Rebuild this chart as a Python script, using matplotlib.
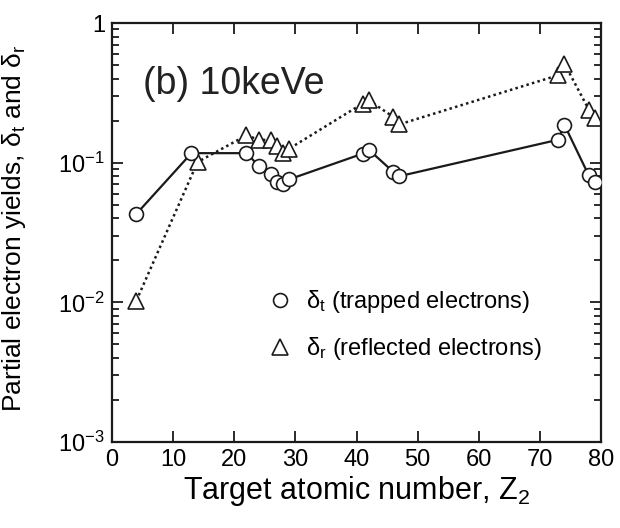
import numpy as np
import matplotlib
matplotlib.use("Agg")
import matplotlib.pyplot as plt
from matplotlib.ticker import FixedLocator, LogLocator, NullFormatter

plt.rcParams['font.family'] = ['Liberation Sans', 'DejaVu Sans']
plt.rcParams['mathtext.fontset'] = 'custom'
plt.rcParams['mathtext.rm'] = 'Liberation Sans'
plt.rcParams['mathtext.it'] = 'Liberation Sans:italic'

# trapped electrons (circles)
z_trapped = [4, 13, 22, 24, 26, 27, 28, 29, 41, 42, 46, 47, 73, 74, 78, 79]
delta_t = [0.043, 0.117, 0.117, 0.095, 0.083, 0.073, 0.070, 0.076,
           0.116, 0.124, 0.086, 0.080, 0.146, 0.187, 0.081, 0.073]

# reflected electrons (triangles)
z_reflected = [4, 14, 22, 24, 26, 27, 28, 29, 41, 42, 46, 47, 73, 74, 78, 79]
delta_r = [0.0103, 0.101, 0.157, 0.146, 0.145, 0.132, 0.117, 0.126,
           0.265, 0.280, 0.213, 0.188, 0.423, 0.513, 0.240, 0.210]

ytick_vals = [1e-3, 1e-2, 1e-1, 1]
ytick_labels = [r'$10^{-3}$', r'$10^{-2}$', r'$10^{-1}$', '1']

fig = plt.figure(figsize=(6.2, 5.28), dpi=100)
ax = fig.add_axes([0.1806, 0.1629, 0.7888, 0.7935])

ax.plot(z_trapped, delta_t, '-', color='#1a1a1a', lw=1.6,
        marker='o', ms=10, mfc='white', mec='#1a1a1a', mew=1.2,
        label=r'δ$_{\mathrm{t}}$ (trapped electrons)', zorder=3)
ax.plot(z_reflected, delta_r, linestyle=(0, (1, 1.3)), color='#1a1a1a', lw=1.8,
        marker='^', ms=11, mfc='white', mec='#1a1a1a', mew=1.2,
        label=r'δ$_{\mathrm{r}}$ (reflected electrons)', zorder=2)

ax.set_yscale('log')
ax.set_xlim(0, 80)
ax.set_ylim(1e-3, 1)
ax.set_xticks(range(0, 81, 10))
ax.yaxis.set_major_locator(FixedLocator(ytick_vals))
ax.set_yticklabels(ytick_labels)
ax.yaxis.set_minor_locator(LogLocator(base=10, subs=np.arange(2, 10)))
ax.yaxis.set_minor_formatter(NullFormatter())

ax.tick_params(which='both', direction='in', top=True, right=True,
               width=1.3, labelsize=17, color='#1a1a1a')
ax.tick_params(which='major', length=8, pad=5)
ax.tick_params(which='minor', length=5)
for s in ax.spines.values():
    s.set_linewidth(1.6)
    s.set_color('#1a1a1a')

ax.set_xlabel(r'Target atomic number, Z$_{\mathrm{2}}$', fontsize=22, labelpad=2)
ax.set_ylabel(r'Partial electron yields, δ$_{\mathrm{t}}$ and δ$_{\mathrm{r}}$', fontsize=19)
ax.yaxis.set_label_coords(-0.172, 0.51)

ax.text(0.063, 0.83, '(b) 10keVe', transform=ax.transAxes, fontsize=27,
        color='#222222')

ax.legend(loc='upper left', bbox_to_anchor=(0.30, 0.39), frameon=False,
          fontsize=17, labelspacing=0.85, handlelength=1.0, handletextpad=0.6,
          borderaxespad=0)
for line in ax.get_legend().get_lines():
    line.set_linestyle('none')

fig.savefig('out.png', dpi=100)
